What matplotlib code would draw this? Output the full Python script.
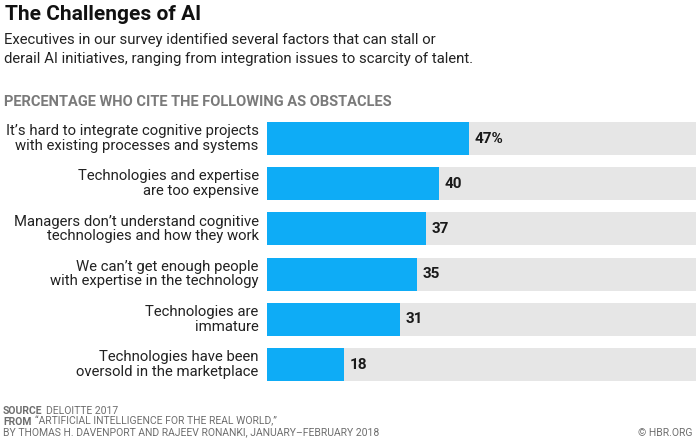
import matplotlib
matplotlib.use("Agg")
import matplotlib.pyplot as plt

plt.rcParams['font.family'] = ['Roboto', 'DejaVu Sans']

categories = [
    "It\u2019s hard to integrate cognitive projects\nwith existing processes and systems",
    "Technologies and expertise\nare too expensive",
    "Managers don\u2019t understand cognitive\ntechnologies and how they work",
    "We can\u2019t get enough people\nwith expertise in the technology",
    "Technologies are\nimmature",
    "Technologies have been\noversold in the marketplace",
]
values = [47, 40, 37, 35, 31, 18]
value_labels = ["47%", "40", "37", "35", "31", "18"]
full_scale = 100

W, H = 696, 440
fig = plt.figure(figsize=(W / 100, H / 100), dpi=100)

def fx(px):
    return px / W

def fy(py):
    return 1 - py / H

# axes in pixels
ax_left, ax_right = 267, 696
row0, step = 138.5, 45.2
ax_top = row0 - step / 2
ax_bot = row0 + step * 5.5
ax = fig.add_axes([fx(ax_left), fy(ax_bot), (ax_right - ax_left) / W, (ax_bot - ax_top) / H])
ax.set_xlim(0, full_scale)
ax.set_ylim(len(values) - 0.5, -0.5)
ax.axis('off')

bar_h = 33 / step
ypos = list(range(len(values)))
ax.barh(ypos, [full_scale] * len(values), height=bar_h, color='#e6e6e6', linewidth=0)
ax.barh(ypos, values, height=bar_h, color='#0eacf6', linewidth=0)

for y, v, lab in zip(ypos, values, value_labels):
    ax.annotate(lab, (v, y), xytext=(4, 0), textcoords='offset points',
                ha='left', va='center', fontsize=11, fontweight='bold', color='#1a1a1a')

for y, cat in zip(ypos, categories):
    ax.annotate(cat, (0, y), xytext=(-6, 0), textcoords='offset points',
                ha='right', va='center', fontsize=10.7, color='#222222',
                linespacing=1.05)

# titles
fig.text(fx(5), fy(20), "The Challenges of AI", fontsize=15, fontweight='bold',
         color='#111111', va='baseline', ha='left')
fig.text(fx(4), fy(44), "Executives in our survey identified several factors that can stall or",
         fontsize=10.75, color='#222222', va='baseline', ha='left')
fig.text(fx(4), fy(63.5), "derail AI initiatives, ranging from integration issues to scarcity of talent.",
         fontsize=10.75, color='#222222', va='baseline', ha='left')
fig.text(fx(4), fy(106), "PERCENTAGE WHO CITE THE FOLLOWING AS OBSTACLES",
         fontsize=10.5, fontweight='bold', color='#7a7a7a', va='baseline', ha='left')

# footer
foot_col = '#6e6e6e'
fs = 7.5
t = fig.text(fx(3), fy(413.5), "SOURCE", fontsize=fs, fontweight='bold', color=foot_col, va='baseline')
fig.canvas.draw()
r = fig.canvas.get_renderer()
bb = t.get_window_extent(r)
fig.text(fx(bb.x1 + 4), fy(413.5), "DELOITTE 2017", fontsize=fs, color=foot_col, va='baseline')
t2 = fig.text(fx(3), fy(424.5), "FROM", fontsize=fs, fontweight='bold', color=foot_col, va='baseline')
bb2 = t2.get_window_extent(r)
fig.text(fx(bb2.x1 + 4), fy(424.5), "\u201cARTIFICIAL INTELLIGENCE FOR THE REAL WORLD,\u201d",
         fontsize=fs, color=foot_col, va='baseline')
fig.text(fx(3), fy(435.5), "BY THOMAS H. DAVENPORT AND RAJEEV RONANKI, JANUARY\u2013FEBRUARY 2018",
         fontsize=fs, color=foot_col, va='baseline')
fig.text(fx(692), fy(435.5), "\u00a9 HBR.ORG", fontsize=fs, color=foot_col, va='baseline', ha='right')

fig.savefig("out.png", dpi=100, facecolor='white')
